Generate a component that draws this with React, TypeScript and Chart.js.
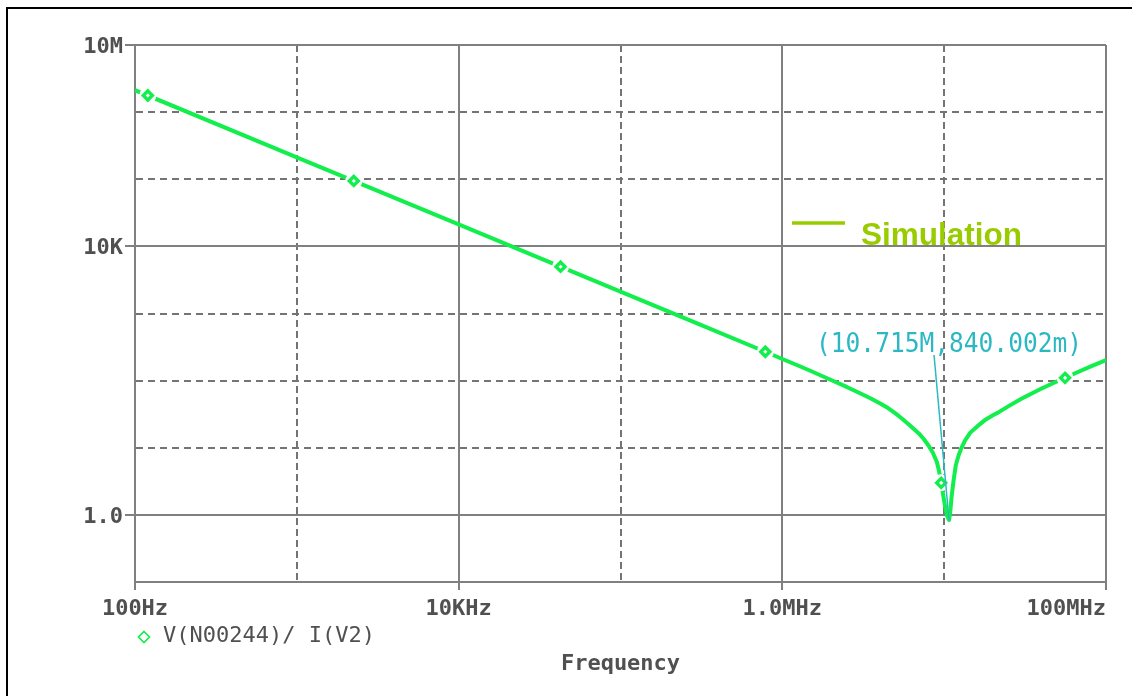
import React, { useEffect, useRef } from 'react';
import { Chart, registerables } from 'chart.js';

Chart.register(...registerables);

// ---------- data ----------
const FREQ_HZ = [
  100, 1000, 10000, 100000, 300000, 785000,
  1000000, 1250000, 1500000, 2000000, 2500000, 3000000, 3500000, 4000000, 4500000,
  5000000, 5500000, 6000000, 6500000, 7000000, 7500000, 8000000, 8500000, 9000000,
  9300000, 9580000, 9850000, 10150000, 10450000, 10715000,
  10900000, 11100000, 11400000, 11800000, 12300000, 12800000, 13500000, 14500000,
  16000000, 18000000, 20000000, 22000000, 25000000, 30000000, 35000000, 40000000,
  47000000, 55850000, 65000000, 80000000, 100000000,
];
const IMPEDANCE_OHM = [
  2120000, 212000, 21200, 2120, 706, 269,
  210, 168, 139, 102, 80.5, 65.5, 54.5, 46, 39,
  32.5, 27, 22.5, 19, 16.2, 13.4, 10.8, 8.5, 6.2,
  4.5, 3.0, 2.0, 1.3, 0.95, 0.84,
  1.1, 1.8, 3.1, 5.5, 7.8, 10.0, 13.0, 16.8,
  20.8, 26.2, 30.5, 34.5, 41.7, 53.6, 65, 76.2,
  91.4, 110, 129.8, 161.3, 203,
];
const MARKER_FREQ_HZ = [120, 2249, 42600, 785000, 9580000, 55850000];
const MARKER_OHM = [1770000, 94300, 4980, 269, 3.0, 110];

const ANNOT_FREQ_HZ = 10715000;
const ANNOT_OHM = 0.840002;
const ANNOT_TEXT = '(10.715M,840.002m)';

const X_MIN = 100;
const X_MAX = 100000000;
const Y_MIN = 0.1;
const Y_MAX = 10000000;
const X_GRID_VALUES = [100, 1000, 10000, 100000, 1000000, 10000000, 100000000];
const Y_GRID_VALUES = [0.1, 1, 10, 100, 1000, 10000, 100000, 1000000, 10000000];
const X_TICK_VALUES = [100, 10000, 1000000, 100000000];
const X_TICK_LABELS = ['100Hz', '10KHz', '1.0MHz', '100MHz'];
const Y_TICK_VALUES = [10000000, 10000, 1];
const Y_TICK_LABELS = ['10M', '10K', '1.0'];

const TRACE_LABEL = 'V(N00244)/ I(V2)';
const X_TITLE = 'Frequency';
const SIM_LABEL = 'Simulation';

// ---------- styles ----------
const GREEN = '#12EE4C';
const TEAL = '#2CB8C2';
const SIM_COLOR = '#99CC00';
const GRID_SOLID = '#808080';
const GRID_DASH = '#747474';
const AXIS_TEXT = '#505050';
const AXIS_FONT = "bold 22px 'DejaVu Sans Mono'";
const LEGEND_FONT = "22px 'DejaVu Sans Mono'";

const near = (a: number, b: number) => Math.abs(Math.log10(a) - Math.log10(b)) < 1e-6;
const isIn = (v: number, arr: number[]) => arr.some((a) => near(a, v));

const overlayPlugin = {
  id: 'overlay',
  afterDraw(chart: any) {
    const { ctx, chartArea } = chart;
    const xs = chart.scales.x;
    const ys = chart.scales.y;
    ctx.save();

    // outer frame (left + top)
    ctx.fillStyle = '#000';
    ctx.fillRect(6, 7, 2, chart.height - 7);
    ctx.fillRect(6, 7, chart.width - 6, 2);

    // y tick labels
    ctx.font = AXIS_FONT;
    ctx.fillStyle = AXIS_TEXT;
    ctx.textBaseline = 'alphabetic';
    ctx.textAlign = 'right';
    Y_TICK_VALUES.forEach((v, i) => {
      ctx.fillText(Y_TICK_LABELS[i], chartArea.left - 12, ys.getPixelForValue(v) + 8);
    });

    // x tick labels
    X_TICK_VALUES.forEach((v, i) => {
      const px = xs.getPixelForValue(v);
      ctx.textAlign = i === X_TICK_VALUES.length - 1 ? 'right' : 'center';
      ctx.fillText(X_TICK_LABELS[i], px, chartArea.bottom + 33);
    });

    // x title
    ctx.textAlign = 'center';
    ctx.fillText(X_TITLE, (chartArea.left + chartArea.right) / 2, chartArea.bottom + 88);

    // trace legend (diamond + name)
    const dx = 144;
    const dy = 637;
    ctx.strokeStyle = GREEN;
    ctx.lineWidth = 1.6;
    ctx.beginPath();
    ctx.moveTo(dx, dy - 5.5);
    ctx.lineTo(dx + 5.5, dy);
    ctx.lineTo(dx, dy + 5.5);
    ctx.lineTo(dx - 5.5, dy);
    ctx.closePath();
    ctx.stroke();
    ctx.font = LEGEND_FONT;
    ctx.fillStyle = AXIS_TEXT;
    ctx.textAlign = 'left';
    ctx.fillText(TRACE_LABEL, 163, 642);

    // "Simulation" legend
    ctx.strokeStyle = SIM_COLOR;
    ctx.lineWidth = 3.5;
    ctx.beginPath();
    ctx.moveTo(792, 223);
    ctx.lineTo(845, 223);
    ctx.stroke();
    ctx.fillStyle = SIM_COLOR;
    ctx.font = "bold 31.5px 'Liberation Sans'";
    ctx.fillText(SIM_LABEL, 861, 245);

    // cursor annotation
    const px = xs.getPixelForValue(ANNOT_FREQ_HZ);
    const py = ys.getPixelForValue(ANNOT_OHM);
    ctx.strokeStyle = TEAL;
    ctx.lineWidth = 1.5;
    ctx.beginPath();
    ctx.moveTo(px - 15, py - 165);
    ctx.lineTo(px, py);
    ctx.stroke();
    ctx.fillStyle = TEAL;
    ctx.font = "26px 'DejaVu Sans Mono'";
    const w = ctx.measureText(ANNOT_TEXT).width;
    ctx.translate(px - 133, py - 168);
    ctx.scale(266 / w, 1);
    ctx.fillText(ANNOT_TEXT, 0, 0);

    ctx.restore();
  },
};

export default function App() {
  const ref = useRef<HTMLCanvasElement>(null);

  useEffect(() => {
    const trace = FREQ_HZ.map((f, i) => ({ x: f, y: IMPEDANCE_OHM[i] }));
    const markers = MARKER_FREQ_HZ.map((f, i) => ({ x: f, y: MARKER_OHM[i] }));

    const xSolid = (v: number) => isIn(v, X_TICK_VALUES) || near(v, X_MIN) || near(v, X_MAX);
    const ySolid = (v: number) => isIn(v, Y_TICK_VALUES) || near(v, Y_MIN) || near(v, Y_MAX);

    const chart = new Chart(ref.current as HTMLCanvasElement, {
      type: 'line',
      data: {
        datasets: [
          {
            label: 'markers',
            data: markers,
            showLine: false,
            pointStyle: 'rectRot',
            pointRadius: 4.5,
            pointBorderWidth: 3.4,
            pointBorderColor: GREEN,
            pointBackgroundColor: '#ffffff',
            order: 0,
          } as any,
          {
            label: 'halo',
            data: markers,
            showLine: false,
            pointStyle: 'circle',
            pointRadius: 8.5,
            pointBorderWidth: 0,
            pointBorderColor: 'rgba(0,0,0,0)',
            pointBackgroundColor: '#ffffff',
            order: 1,
          } as any,
          {
            label: TRACE_LABEL,
            data: trace,
            borderColor: GREEN,
            borderWidth: 4,
            pointRadius: 0,
            tension: 0,
            fill: false,
            borderJoinStyle: 'round',
            order: 2,
          } as any,
        ],
      },
      options: {
        animation: false,
        responsive: false,
        maintainAspectRatio: false,
        events: [],
        layout: { padding: { left: 0, top: 45, right: 26, bottom: 0 } },
        plugins: { legend: { display: false }, tooltip: { enabled: false } },
        scales: {
          x: {
            type: 'logarithmic',
            min: X_MIN,
            max: X_MAX,
            afterBuildTicks: (s: any) => {
              s.ticks = X_GRID_VALUES.map((v) => ({ value: v }));
            },
            afterFit: (s: any) => {
              s.height = 114;
            },
            ticks: { display: false },
            grid: {
              color: (c: any) => (c.tick && xSolid(c.tick.value) ? GRID_SOLID : GRID_DASH),
              lineWidth: 2,
              drawTicks: true,
              tickLength: 8,
              tickWidth: 2,
              tickColor: (c: any) =>
                c.tick && isIn(c.tick.value, X_TICK_VALUES) ? GRID_SOLID : 'rgba(0,0,0,0)',
            },
            border: {
              display: true,
              color: GRID_SOLID,
              width: 2,
              dash: (c: any) => (c.tick && !xSolid(c.tick.value) ? [7, 4] : []),
            },
          },
          y: {
            type: 'logarithmic',
            min: Y_MIN,
            max: Y_MAX,
            afterBuildTicks: (s: any) => {
              s.ticks = Y_GRID_VALUES.map((v) => ({ value: v }));
            },
            afterFit: (s: any) => {
              s.width = 135;
            },
            ticks: { display: false },
            grid: {
              color: (c: any) => (c.tick && ySolid(c.tick.value) ? GRID_SOLID : GRID_DASH),
              lineWidth: 2,
              drawTicks: true,
              tickLength: 10,
              tickWidth: 2,
              tickColor: (c: any) =>
                c.tick && isIn(c.tick.value, Y_TICK_VALUES) ? GRID_SOLID : 'rgba(0,0,0,0)',
            },
            border: {
              display: true,
              color: GRID_SOLID,
              width: 2,
              dash: (c: any) => (c.tick && !ySolid(c.tick.value) ? [7, 5] : []),
            },
          },
        },
      } as any,
      plugins: [overlayPlugin],
    });
    return () => chart.destroy();
  }, []);

  return (
    <div style={{ position: 'absolute', left: 0, top: 0, width: 1132, height: 696, background: '#fff' }}>
      <canvas ref={ref} width={1132} height={696} style={{ display: 'block', width: 1132, height: 696 }} />
    </div>
  );
}
